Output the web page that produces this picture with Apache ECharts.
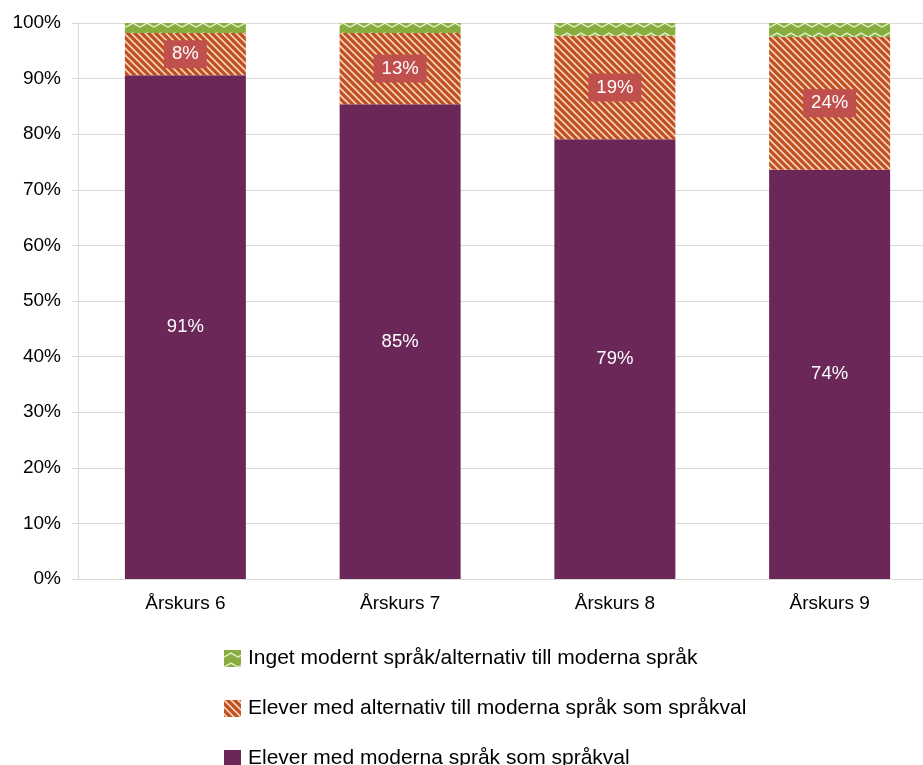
<!DOCTYPE html>
<html>
<head>
<meta charset="utf-8">
<script src="https://cdn.jsdelivr.net/npm/echarts@6/dist/echarts.min.js"></script>
<style>
  html, body { margin: 0; padding: 0; background: #fff; }
  #chart { width: 923px; height: 765px; }
</style>
</head>
<body>
<div id="chart"></div>
<script>
  var categories = ["Årskurs 6", "Årskurs 7", "Årskurs 8", "Årskurs 9"];
  var moderna = [90.6, 85.4, 79.1, 73.6];
  var alternativ = [7.6, 12.8, 18.6, 23.9];
  var inget = [1.8, 1.8, 2.3, 2.5];

  var seriesNames = [
    "Elever med moderna språk som språkval",
    "Elever med alternativ till moderna språk som språkval",
    "Inget modernt språk/alternativ till moderna språk"
  ];

  // diagonal stripes for the orange series
  function stripes() {
    var c = document.createElement("canvas");
    c.width = 7; c.height = 7;
    var ctx = c.getContext("2d");
    ctx.fillStyle = "#c0501f";
    ctx.fillRect(0, 0, 7, 7);
    ctx.strokeStyle = "rgba(255,235,220,0.85)";
    ctx.lineWidth = 1.6;
    ctx.beginPath();
    ctx.moveTo(-1, -1); ctx.lineTo(8, 8);
    ctx.moveTo(-8, -1); ctx.lineTo(1, 8);
    ctx.moveTo(6, -1); ctx.lineTo(15, 8);
    ctx.stroke();
    return c;
  }

  // zigzag for the green series
  function zigzag() {
    var c = document.createElement("canvas");
    c.width = 14; c.height = 10;
    var ctx = c.getContext("2d");
    ctx.fillStyle = "#86ad3e";
    ctx.fillRect(0, 0, 14, 10);
    ctx.strokeStyle = "rgba(235,245,215,0.9)";
    ctx.lineWidth = 1.5;
    ctx.beginPath();
    ctx.moveTo(0, 7); ctx.lineTo(7, 3); ctx.lineTo(14, 7);
    ctx.stroke();
    return c;
  }

  var pct = function (p) { return Math.round(p.value) + "%"; };

  var chart = echarts.init(document.getElementById("chart"));
  chart.setOption({
    animation: false,
    textStyle: { fontFamily: "Liberation Sans, Arial, sans-serif" },
    // plot area runs a bit past the right edge, like the original
    grid: { left: 78, width: 859, top: 23, bottom: 186, outerBoundsMode: "none" },
    legend: {
      orient: "vertical",
      left: 219,
      top: 643,
      height: 140,
      icon: "rect",
      itemWidth: 17,
      itemHeight: 17,
      itemGap: 29,
      data: [seriesNames[2], seriesNames[1], seriesNames[0]],
      textStyle: { fontSize: 21, color: "#000", padding: [0, 0, 0, 2] }
    },
    xAxis: {
      type: "category",
      data: categories,
      axisLine: { lineStyle: { color: "#d9d9d9" } },
      axisTick: { show: false },
      axisLabel: { color: "#000", fontSize: 19, margin: 15 }
    },
    yAxis: {
      type: "value",
      min: 0,
      max: 100,
      interval: 10,
      axisLine: { show: true, lineStyle: { color: "#d9d9d9" } },
      axisTick: { show: true, length: 6, lineStyle: { color: "#d9d9d9" } },
      splitLine: { lineStyle: { color: "#d9d9d9" } },
      axisLabel: { formatter: "{value}%", color: "#000", fontSize: 19, margin: 17 }
    },
    series: [
      {
        name: seriesNames[0],
        type: "bar",
        stack: "total",
        barWidth: 121,
        data: moderna,
        itemStyle: { color: "#6a2758" },
        label: { show: true, position: "inside", color: "#fff", fontSize: 18.5, formatter: pct }
      },
      {
        name: seriesNames[1],
        type: "bar",
        stack: "total",
        data: alternativ,
        itemStyle: { color: { image: stripes(), repeat: "repeat" } },
        label: {
          show: true, position: "inside", color: "#fff", fontSize: 18.5, formatter: pct,
          backgroundColor: "#c0504d", padding: [5, 8, 4, 8]
        }
      },
      {
        name: seriesNames[2],
        type: "bar",
        stack: "total",
        data: inget,
        itemStyle: { color: { image: zigzag(), repeat: "repeat" } }
      }
    ]
  });
</script>
</body>
</html>
